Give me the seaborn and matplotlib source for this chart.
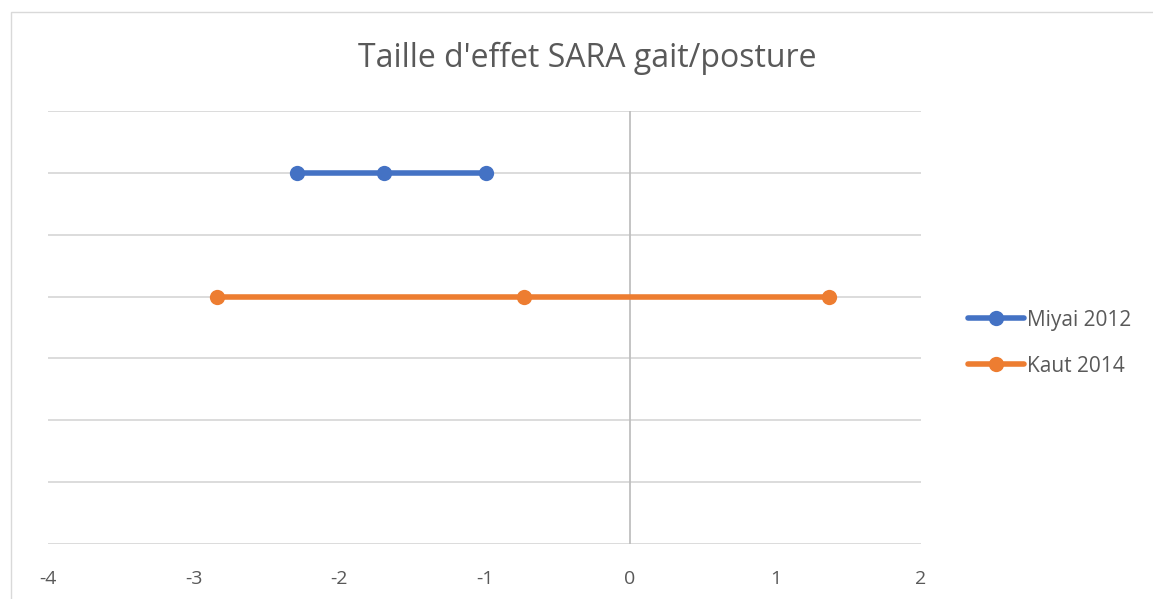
import matplotlib
matplotlib.use("Agg")
import matplotlib.pyplot as plt
import seaborn as sns
import pandas as pd
from matplotlib.patches import Rectangle

studies = ["Miyai 2012", "Kaut 2014"]
miyai_x = [-2.29, -1.69, -0.99]
miyai_y = [6, 6, 6]
kaut_x = [-2.84, -0.73, 1.37]
kaut_y = [4, 4, 4]
colors = ["#4472C4", "#ED7D31"]
x_ticks = [-4, -3, -2, -1, 0, 1, 2]
y_grid = [0, 1, 2, 3, 4, 5, 6, 7]
title = "Taille d'effet SARA gait/posture"

df = pd.concat([
    pd.DataFrame({"x": miyai_x, "y": miyai_y, "study": studies[0]}),
    pd.DataFrame({"x": kaut_x, "y": kaut_y, "study": studies[1]}),
], ignore_index=True)

sns.set_theme(style="white")
plt.rcParams['font.family'] = ['Open Sans', 'DejaVu Sans']

fig = plt.figure(figsize=(11.53, 5.99), dpi=100)
ax = fig.add_axes([48/1153, 1-544/599, 873/1153, 433/599])

# outer chart frame
fig.patches.append(Rectangle((11/1153, -0.1), 1.2, (1-12/599)+0.1, transform=fig.transFigure,
                             fill=False, edgecolor="#d9d9d9", linewidth=1.0, zorder=0))

for yv in y_grid:
    ax.axhline(yv, color="#d9d9d9", linewidth=1.3, zorder=0)
ax.axvline(0, color="#bfbfbf", linewidth=1.3, zorder=0.5)

sns.lineplot(data=df, x="x", y="y", hue="study", palette=colors, hue_order=studies,
             marker="o", markersize=11, markeredgewidth=0, linewidth=4.0,
             sort=False, estimator=None, ax=ax, zorder=3)

ax.set_xlim(-4, 2)
ax.set_ylim(0, 7)
ax.set_xticks(x_ticks)
ax.set_xticklabels([str(t) for t in x_ticks], fontsize=14, color="#595959")
ax.set_yticks([])
ax.tick_params(axis="x", length=0, pad=19)
ax.set_xlabel("")
ax.set_ylabel("")
for s in ax.spines.values():
    s.set_visible(False)

fig.text(587/1153, 1-58/599, title, ha="center", va="center", fontsize=23, color="#595959")

leg = ax.legend(loc="center left", bbox_to_anchor=(949/873 - 48/873, (544-343)/433),
                frameon=False, fontsize=15, handlelength=2.7, handletextpad=0.15,
                labelspacing=1.2, labelcolor="#595959")
for h in leg.legend_handles:
    h.set_linewidth(4.0)

fig.savefig("out.png", dpi=100, facecolor="white")
